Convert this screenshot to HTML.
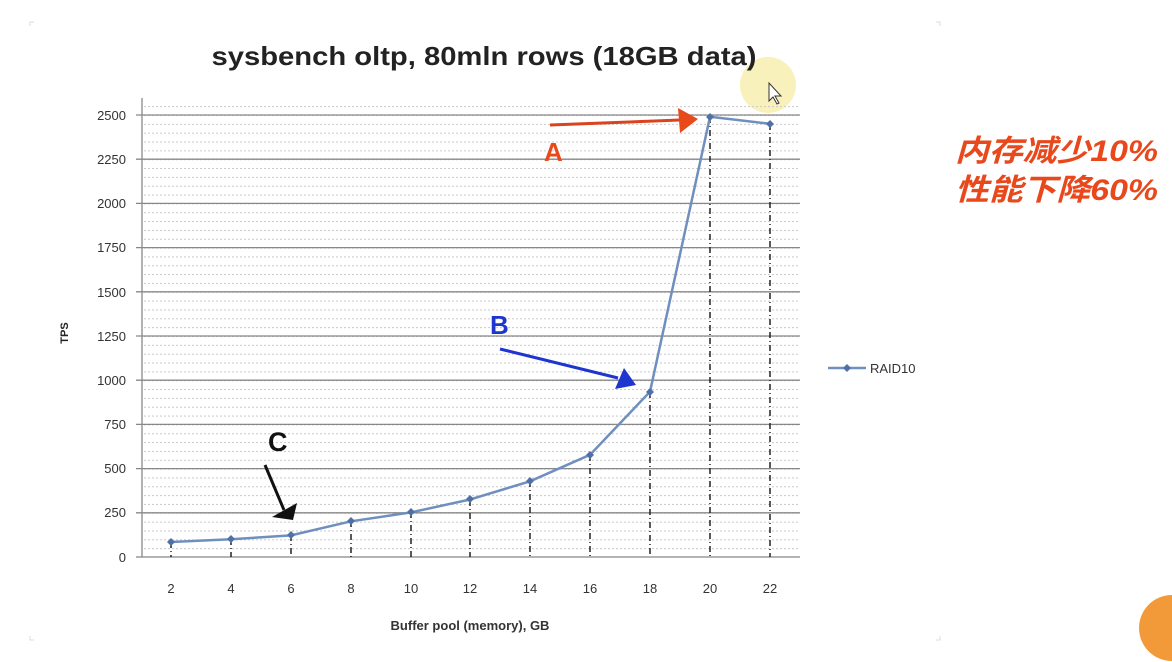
<!DOCTYPE html>
<html><head><meta charset="utf-8"><style>
html,body{margin:0;padding:0;background:#fff;width:1172px;height:662px;overflow:hidden}
svg{display:block}
</style></head><body>
<svg width="1172" height="662" viewBox="0 0 1172 662" xmlns="http://www.w3.org/2000/svg" font-family="Liberation Sans, sans-serif">
<defs>
<pattern id="minor" patternUnits="userSpaceOnUse" x="0" y="557" width="4" height="8.84">
<line x1="0" y1="0.5" x2="2" y2="0.5" stroke="#c8c8c8" stroke-width="1"/>
</pattern>
</defs>
<rect width="1172" height="662" fill="#fff"/>
<path d="M30 26 v-4 h4 M936 22 h4 v4 M30 636 v4 h4 M936 640 h4 v-4" stroke="#ddd" fill="none"/>
<circle cx="768" cy="85" r="28" fill="#f7eeaa" opacity="0.8"/>
<text x="484" y="65" text-anchor="middle" font-size="26" font-weight="bold" fill="#222" textLength="545" lengthAdjust="spacingAndGlyphs">sysbench oltp, 80mln rows (18GB data)</text>
<rect x="142" y="99" width="658" height="458" fill="url(#minor)"/>
<g stroke="#888" stroke-width="1.3">
<line x1="136" y1="115" x2="800" y2="115"/>
<line x1="136" y1="159.2" x2="800" y2="159.2"/>
<line x1="136" y1="203.4" x2="800" y2="203.4"/>
<line x1="136" y1="247.6" x2="800" y2="247.6"/>
<line x1="136" y1="291.8" x2="800" y2="291.8"/>
<line x1="136" y1="336" x2="800" y2="336"/>
<line x1="136" y1="380.2" x2="800" y2="380.2"/>
<line x1="136" y1="424.4" x2="800" y2="424.4"/>
<line x1="136" y1="468.6" x2="800" y2="468.6"/>
<line x1="136" y1="512.8" x2="800" y2="512.8"/>
<line x1="136" y1="557" x2="800" y2="557"/>
</g>
<line x1="142" y1="98" x2="142" y2="557" stroke="#888" stroke-width="1.3"/>
<g font-size="13" fill="#333" text-anchor="end">
<text x="126" y="120">2500</text><text x="126" y="164">2250</text><text x="126" y="208">2000</text>
<text x="126" y="252">1750</text><text x="126" y="297">1500</text><text x="126" y="341">1250</text>
<text x="126" y="385">1000</text><text x="126" y="429">750</text><text x="126" y="473">500</text>
<text x="126" y="517">250</text><text x="126" y="562">0</text>
</g>
<text transform="translate(68,333) rotate(-90)" text-anchor="middle" font-size="11" font-weight="bold" fill="#222">TPS</text>
<g stroke="#222" stroke-width="1.5" stroke-dasharray="6,3,1,3">
<line x1="171" y1="542" x2="171" y2="557"/><line x1="231" y1="539" x2="231" y2="557"/>
<line x1="291" y1="535" x2="291" y2="557"/><line x1="351" y1="521" x2="351" y2="557"/>
<line x1="411" y1="512" x2="411" y2="557"/><line x1="470" y1="500" x2="470" y2="557"/>
<line x1="530" y1="481" x2="530" y2="557"/><line x1="590" y1="455" x2="590" y2="557"/>
<line x1="650" y1="392" x2="650" y2="557"/><line x1="710" y1="117" x2="710" y2="557"/>
<line x1="770" y1="124" x2="770" y2="557"/>
</g>
<polyline points="171,542 231,539.3 291,535.4 351,521.3 411,512.4 470,499.5 530,481.3 590,454.8 650,391.7 710,116.8 770,123.8" fill="none" stroke="#6f8fbf" stroke-width="2.5"/>
<g fill="#4f71a8">
<path d="M171 538l4 4-4 4-4-4z"/><path d="M231 535l4 4-4 4-4-4z"/><path d="M291 531l4 4-4 4-4-4z"/>
<path d="M351 517l4 4-4 4-4-4z"/><path d="M411 508l4 4-4 4-4-4z"/><path d="M470 495l4 4-4 4-4-4z"/>
<path d="M530 477l4 4-4 4-4-4z"/><path d="M590 451l4 4-4 4-4-4z"/><path d="M650 388l4 4-4 4-4-4z"/>
<path d="M710 113l4 4-4 4-4-4z"/><path d="M770 120l4 4-4 4-4-4z"/>
</g>
<g font-size="13" fill="#333" text-anchor="middle">
<text x="171" y="593">2</text><text x="231" y="593">4</text><text x="291" y="593">6</text>
<text x="351" y="593">8</text><text x="411" y="593">10</text><text x="470" y="593">12</text>
<text x="530" y="593">14</text><text x="590" y="593">16</text><text x="650" y="593">18</text>
<text x="710" y="593">20</text><text x="770" y="593">22</text>
</g>
<text x="470" y="630" text-anchor="middle" font-size="13" font-weight="bold" fill="#333">Buffer pool (memory), GB</text>
<line x1="828" y1="368" x2="866" y2="368" stroke="#6f8fbf" stroke-width="2.5"/>
<path d="M847 364l4 4-4 4-4-4z" fill="#4f71a8"/>
<text x="870" y="373" font-size="13" fill="#333">RAID10</text>
<path d="M550 125 L680 120" stroke="#d9431e" stroke-width="3"/>
<path d="M678 108 L698 119 L680 133 z" fill="#e84a1a"/>
<text x="544" y="161" font-size="26" font-weight="bold" fill="#e84a1a">A</text>
<text x="490" y="334" font-size="26" font-weight="bold" fill="#1f35d0">B</text>
<path d="M500 349 L618 378" stroke="#1f35d0" stroke-width="3"/>
<path d="M624 368 L636 385 L615 389 z" fill="#1f35d0"/>
<text x="268" y="451" font-size="27" font-weight="bold" fill="#111">C</text>
<path d="M265 465 L284 510" stroke="#111" stroke-width="3"/>
<path d="M272 517 L297 503 L293 520 z" fill="#111"/>
<path d="M769 83 v18 l4 -4 l4 7 l2 -1 l-4 -7 h6 z" fill="#fff" stroke="#333" stroke-width="1"/>
<g font-family="Liberation Sans, Noto Sans CJK SC, sans-serif" font-size="30" font-style="italic" font-weight="bold" fill="#e8481c">
<text x="955" y="161" textLength="203" lengthAdjust="spacingAndGlyphs">内存减少10%</text>
<text x="955" y="200" textLength="203" lengthAdjust="spacingAndGlyphs">性能下降60%</text>
</g>
<circle cx="1172" cy="628" r="33" fill="#f29a3a"/>
</svg>
</body></html>
